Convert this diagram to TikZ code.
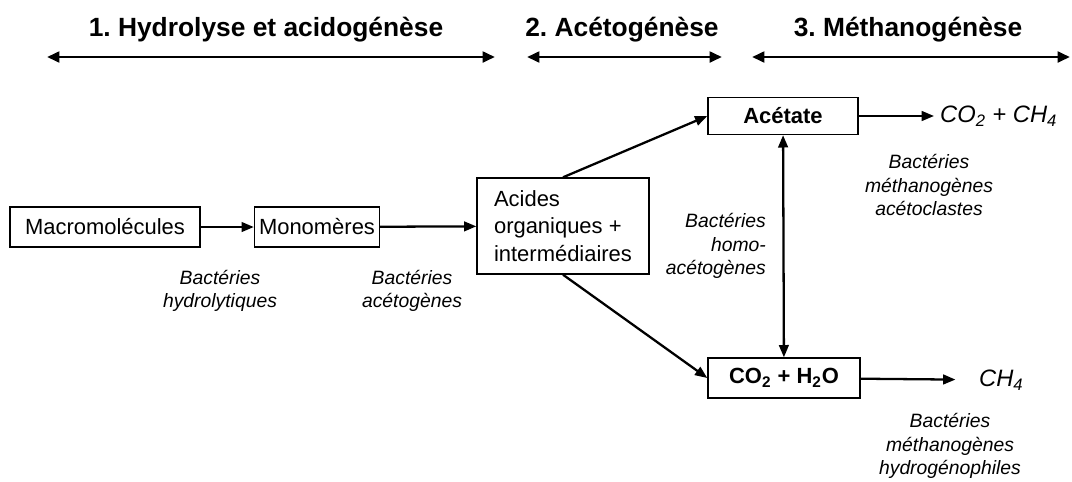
\documentclass[tikz,border=0pt]{standalone}
\usepackage{fontspec}
\setmainfont{Liberation Sans}
\usetikzlibrary{arrows.meta}

\begin{document}
\begin{tikzpicture}[
    x=0.02cm, y=-0.02cm,
    every node/.style={font=\fontsize{12.5}{15.5}\selectfont},
    box/.style={draw, line width=0.8pt, inner sep=1.5pt, minimum height=0.8cm},
    note/.style={font=\fontsize{11}{13.5}\selectfont\itshape, align=center},
    phase/.style={font=\fontsize{15}{18}\selectfont\bfseries},
    product/.style={anchor=west, font=\fontsize{13.5}{16}\selectfont\itshape},
    flow/.style={line width=1.3pt, -{Triangle[length=7pt,width=5.5pt]}},
    span/.style={line width=1.7pt, {Triangle[length=7pt,width=6pt]}-{Triangle[length=7pt,width=6pt]}}
]

\useasboundingbox (0,0) rectangle (1072,481);

% =========================================================
% Phases
% =========================================================

\node[phase] (ph1) at (266,30) {1.\ Hydrolyse et acidogénèse};
\node[phase] (ph2) at (622,30) {2.\ Acétogénèse};
\node[phase] (ph3) at (908,30) {3.\ Méthanogénèse};

\coordinate (ph1a) at (47,57);
\coordinate (ph1b) at (495,57);
\coordinate (ph2a) at (527,57);
\coordinate (ph2b) at (722,57);
\coordinate (ph3a) at (752,57);
\coordinate (ph3b) at (1070,57);

\draw[span] (ph1a) -- (ph1b);
\draw[span] (ph2a) -- (ph2b);
\draw[span] (ph3a) -- (ph3b);


% =========================================================
% Substrates
% =========================================================

\node[box, minimum width=3.8cm] (macro) at (105,227) {Macromolécules};
\node[box, minimum width=2.5cm] (mono) at (317,227) {Monomères};
\node[box, minimum width=3.44cm, minimum height=1.92cm, align=left] (acides) at (563,226)
    {Acides\\organiques +\\intermédiaires};

\node[box, minimum width=3.0cm, minimum height=0.74cm] (acetate) at (783,116) {\textbf{Acétate}};
\node[box, minimum width=3.04cm] (co2h2o) at (784,378)
    {\textbf{CO\textsubscript{2} + H\textsubscript{2}O}};


% =========================================================
% Products
% =========================================================

\node[product] (co2ch4) at (934,116) {CO\textsubscript{2} + CH\textsubscript{4}};
\node[product] (ch4) at (973,380) {CH\textsubscript{4}};


% =========================================================
% Bacteria
% =========================================================

\node[note] (hydro) at (220,291) {Bactéries\\hydrolytiques};
\node[note] (aceto) at (412,291) {Bactéries\\acétogènes};
\node[note, align=right, anchor=east] (homo) at (772,246) {Bactéries\\homo-\\acétogènes};
\node[note] (clast) at (929,185) {Bactéries\\méthanogènes\\acétoclastes};
\node[note] (hydrog) at (950,446) {Bactéries\\méthanogènes\\hydrogénophiles};


% =========================================================
% Connectors
% =========================================================

\draw[flow] (macro) -- (mono);
\draw[flow] (mono) -- (acides);
\draw[flow] (acides.north) -- (acetate.west);
\draw[flow] (acides.south) -- (co2h2o.west);
\draw[flow] (acetate) -- (co2ch4);
\draw[flow, shorten >=10pt] (co2h2o) -- (ch4);
\draw[flow, {Triangle[length=7pt,width=5.5pt]}-{Triangle[length=7pt,width=5.5pt]}] (acetate) -- (co2h2o);

\end{tikzpicture}
\end{document}
